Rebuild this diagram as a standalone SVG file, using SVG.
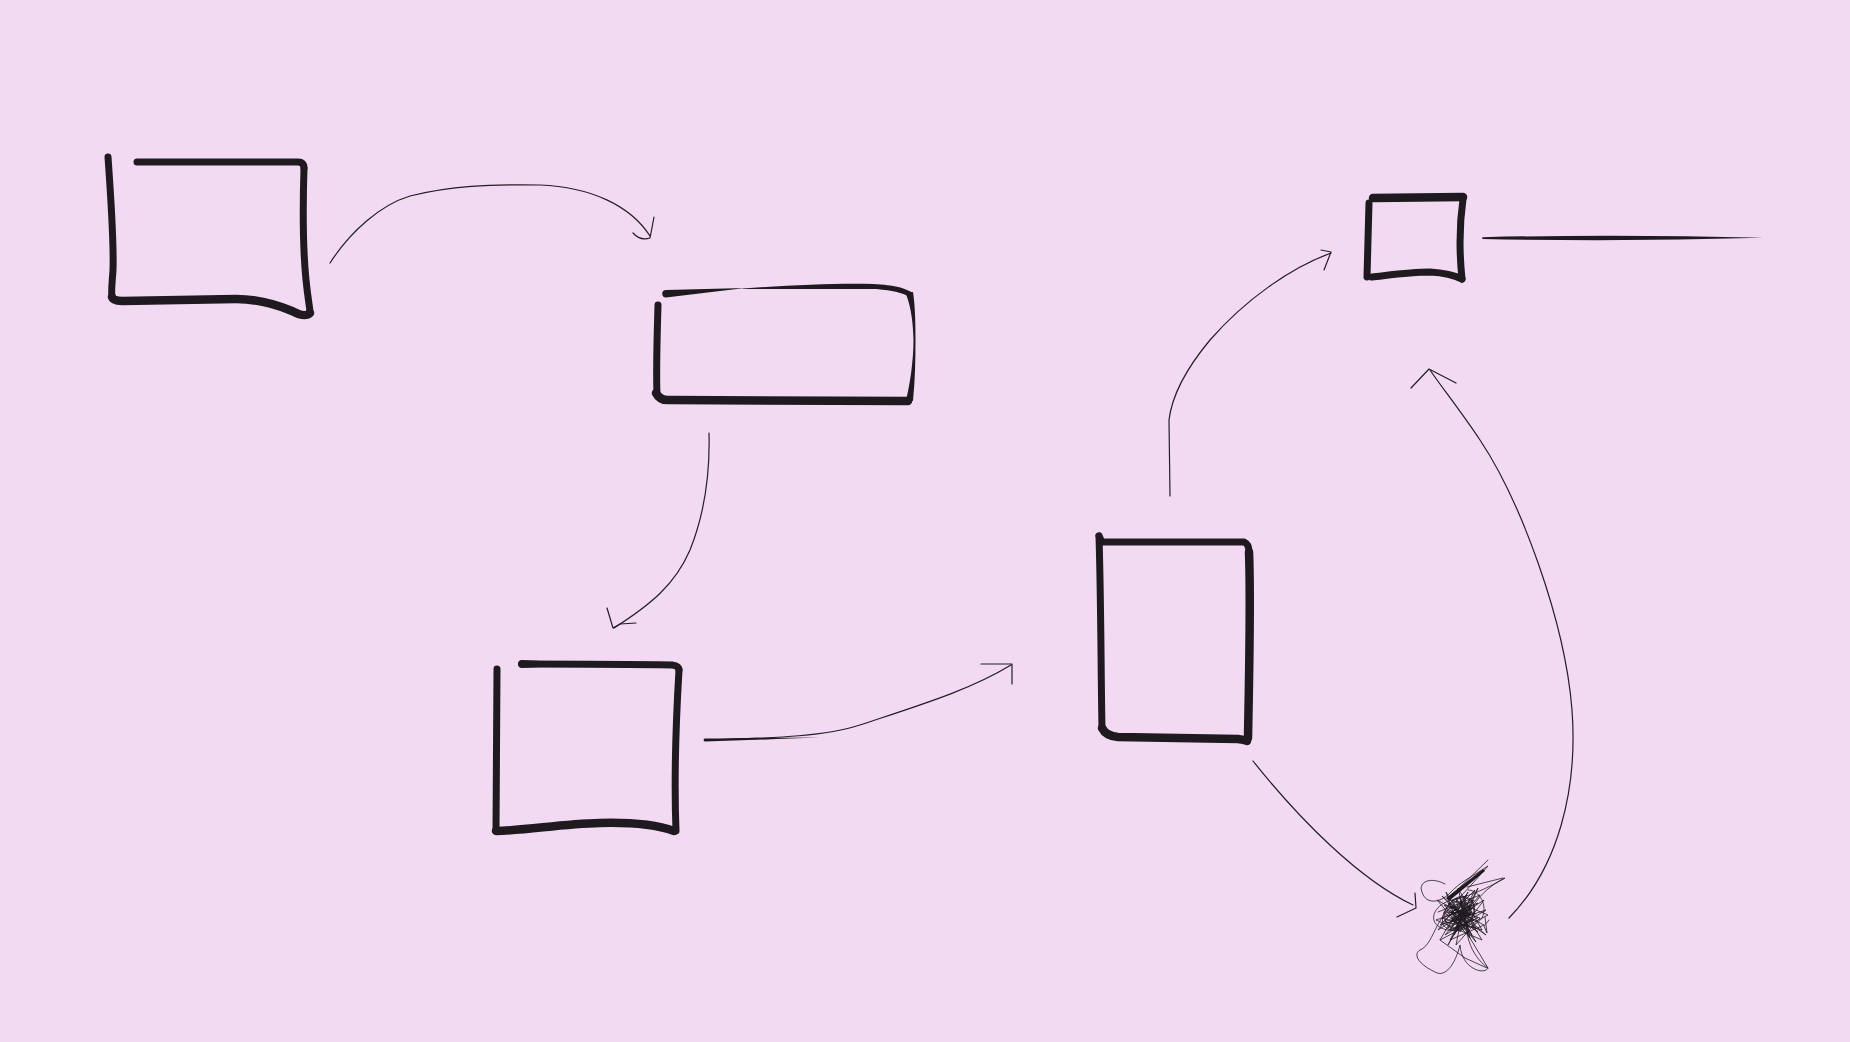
<svg xmlns="http://www.w3.org/2000/svg" width="1850" height="1042" viewBox="0 0 1850 1042">
<style>
.b{fill:none;stroke:#1e1a1f;stroke-width:7;stroke-linecap:round;stroke-linejoin:round}
.bt{fill:none;stroke:#1e1a1f;stroke-width:8.5;stroke-linecap:round;stroke-linejoin:round}
.f{fill:#1e1a1f;stroke:none}
.c{fill:none;stroke:#231e24;stroke-width:1.2;stroke-linecap:round;stroke-linejoin:round}
.s{fill:none;stroke:#1e1a1f;stroke-width:0.8;stroke-linecap:round;stroke-linejoin:round}
.s2{fill:none;stroke:#1e1a1f;stroke-width:1.1;stroke-linecap:round;stroke-linejoin:round}
</style>
<rect x="0" y="0" width="1850" height="1042" fill="#f2daf3"/>
<g id="node-1">
<path class="b" d="M108 157 C111 200 114 240 113 270 C112 285 111 292 112 297"/>
<path class="b" d="M137 162 L298 162 Q304 162 304 168"/>
<path class="b" d="M304 168 C303 200 302 240 306 280 C308 300 310 308 310 313"/>
<path class="bt" d="M112 297 Q113 301 122 301 L236 299 C262 299 280 306 292 311 Q305 318 310 313"/>
</g>
<g id="node-2">
<path class="f" d="M745 288 L666 290 A3.6 3.6 0 0 0 666 297.5 Z"/>
<path class="f" d="M743 288.5 C790 285 840 283 873 284 C895 285 905 288 913 293 L910 297 C900 291 880 289 873 289 C830 289 790 289 743 289 Z"/>
<path class="f" d="M906 294 C912 310 913 325 913.5 340 C913.5 360 910 385 906 400 L913 401 C915 380 915.5 360 915.5 340 C915.5 320 915 305 913 292 Z"/>
<path class="b" d="M658 305 C657 340 656 370 657 395"/>
<path class="bt" d="M656 393 Q660 401 670 400 L908 401"/>
</g>
<g id="node-3">
<path class="b" d="M522 664 C560 664 620 664 672 665 Q679 666 679 670"/>
<path class="f" d="M522 660 L560 662 L560 666 L522 668 A4 4 0 0 1 522 660 Z"/>
<path class="b" d="M497 669 L496 831"/>
<path class="bt" d="M496 831 C530 830 560 824 600 823 C640 822 660 826 674 831"/>
<path class="b" d="M679 670 C676 720 674 780 676 831"/>
</g>
<g id="node-4">
<path class="b" d="M1099 536 L1102 542 L1244 542 Q1249 544 1249 552"/>
<path class="b" d="M1099 536 C1101 600 1101 680 1102 728"/>
<path class="bt" d="M1102 728 Q1106 736 1118 737 L1238 739 Q1246 740 1247 741"/>
<path class="bt" d="M1249 552 C1251 600 1249 680 1248 738"/>
</g>
<g id="node-5">
<path class="bt" d="M1373 198 L1463 197"/>
<path class="b" d="M1369 203 L1367 277"/>
<path class="b" d="M1372 277 C1390 275 1410 272 1430 272 C1448 273 1456 276 1462 279"/>
<path class="b" d="M1463 199 C1460 220 1459 250 1462 279"/>
</g>
<g id="node-scribble">
<path class="s" d="M1445 884 C1430 876 1418 882 1422 892 C1426 905 1440 903 1450 893 C1460 882 1470 878 1488 866 C1476 880 1462 895 1448 910 C1434 925 1432 945 1420 950 C1412 955 1420 965 1435 972 C1445 978 1455 965 1460 945 C1462 970 1485 975 1488 968 C1470 955 1462 930 1470 912 C1476 898 1490 885 1505 878 C1488 888 1470 896 1452 900 C1436 904 1428 918 1438 926 C1452 936 1475 928 1482 918 C1488 906 1480 890 1468 890"/>
<path class="s" d="M1438 912 L1480 895 L1445 935 L1486 910 L1440 925 L1475 890 L1450 940 L1484 925 L1437 900 L1470 938 L1458 888 L1482 930 L1442 918 L1478 903 L1448 928 L1468 892 L1440 940 L1488 915 L1452 900 L1472 935 L1444 905 L1480 918 L1456 945 L1466 895 L1438 930 L1484 900 L1460 932 L1446 892 L1476 942 L1450 910 L1486 935 L1442 896 L1464 920 L1478 888 L1448 945 L1470 908 L1436 920 L1482 940 L1456 898 L1462 928 L1444 912 L1476 914"/>
<path class="s" d="M1446 915 L1474 900 L1450 930 L1478 918 L1448 903 L1468 934 L1460 898 L1476 928 L1445 922 L1472 908 L1454 935 L1466 902 L1447 910 L1478 932 L1458 918 L1470 899 L1452 926 L1475 912"/>
<path class="s2" d="M1450 915 L1472 905 L1455 928 L1474 920 L1452 906 L1468 926 L1460 903 L1470 915 L1451 922 L1466 908 L1456 920 L1472 912"/>
<path class="s" d="M1448 905 Q1460 890 1472 900 Q1480 915 1465 925 Q1450 935 1445 920 Q1442 905 1458 898 Q1475 895 1474 912 Q1470 928 1455 930 Q1438 930 1444 912 Q1452 896 1466 904 Q1476 914 1462 922 Q1450 926 1452 912"/>
<path class="f" d="M1446 898 L1483 869 L1485 871 L1449 901 Z"/>
<path class="s" d="M1450 897 L1488 860 M1467 887 L1503 878 M1440 940 L1465 958 L1487 968 M1467 933 L1488 968 M1485 917 L1487 933 L1484 926 L1489 920"/>
</g>
<g id="connectors">
<path class="c" d="M330 263 C350 232 380 205 410 196 C450 186 490 184 540 185 C590 187 630 205 650 236"/>
<path class="c" d="M633 233 Q640 241 650 238 Q652 228 654 217"/>
<path class="c" d="M709 433 C710 470 706 510 690 550 C675 585 650 605 614 628"/>
<path class="c" d="M607 608 L613 628 L620 624 L636 623"/>
<path class="c" d="M705 740 C760 738 820 738 860 725 C920 705 970 690 1011 665"/>
<path class="f" d="M705 738.6 C740 738 780 738 820 737.6 C780 739.2 740 740.4 705 741.4 A1.4 1.4 0 0 1 705 738.6 Z"/>
<path class="c" d="M981 664 L1012 664 L1012 684"/>
<path class="c" d="M1253 761 C1300 820 1360 880 1413 905"/>
<path class="c" d="M1415 893 L1416 908 L1397 917"/>
<path class="c" d="M1509 918 C1558 868 1578 790 1572 710 C1565 620 1520 500 1480 440 C1460 410 1440 385 1430 370"/>
<path class="c" d="M1411 388 L1429 369 L1456 383"/>
<path class="c" d="M1170 496 L1169 420 C1172 395 1185 370 1210 340 C1245 300 1290 268 1331 253"/>
<path class="c" d="M1321 250 L1331 252 L1324 270"/>
<path class="f" d="M1483 237.2 Q1620 234 1763 237.8 Q1620 241.8 1483 239 A0.9 0.9 0 0 1 1483 237.2 Z"/>
</g>
</svg>
